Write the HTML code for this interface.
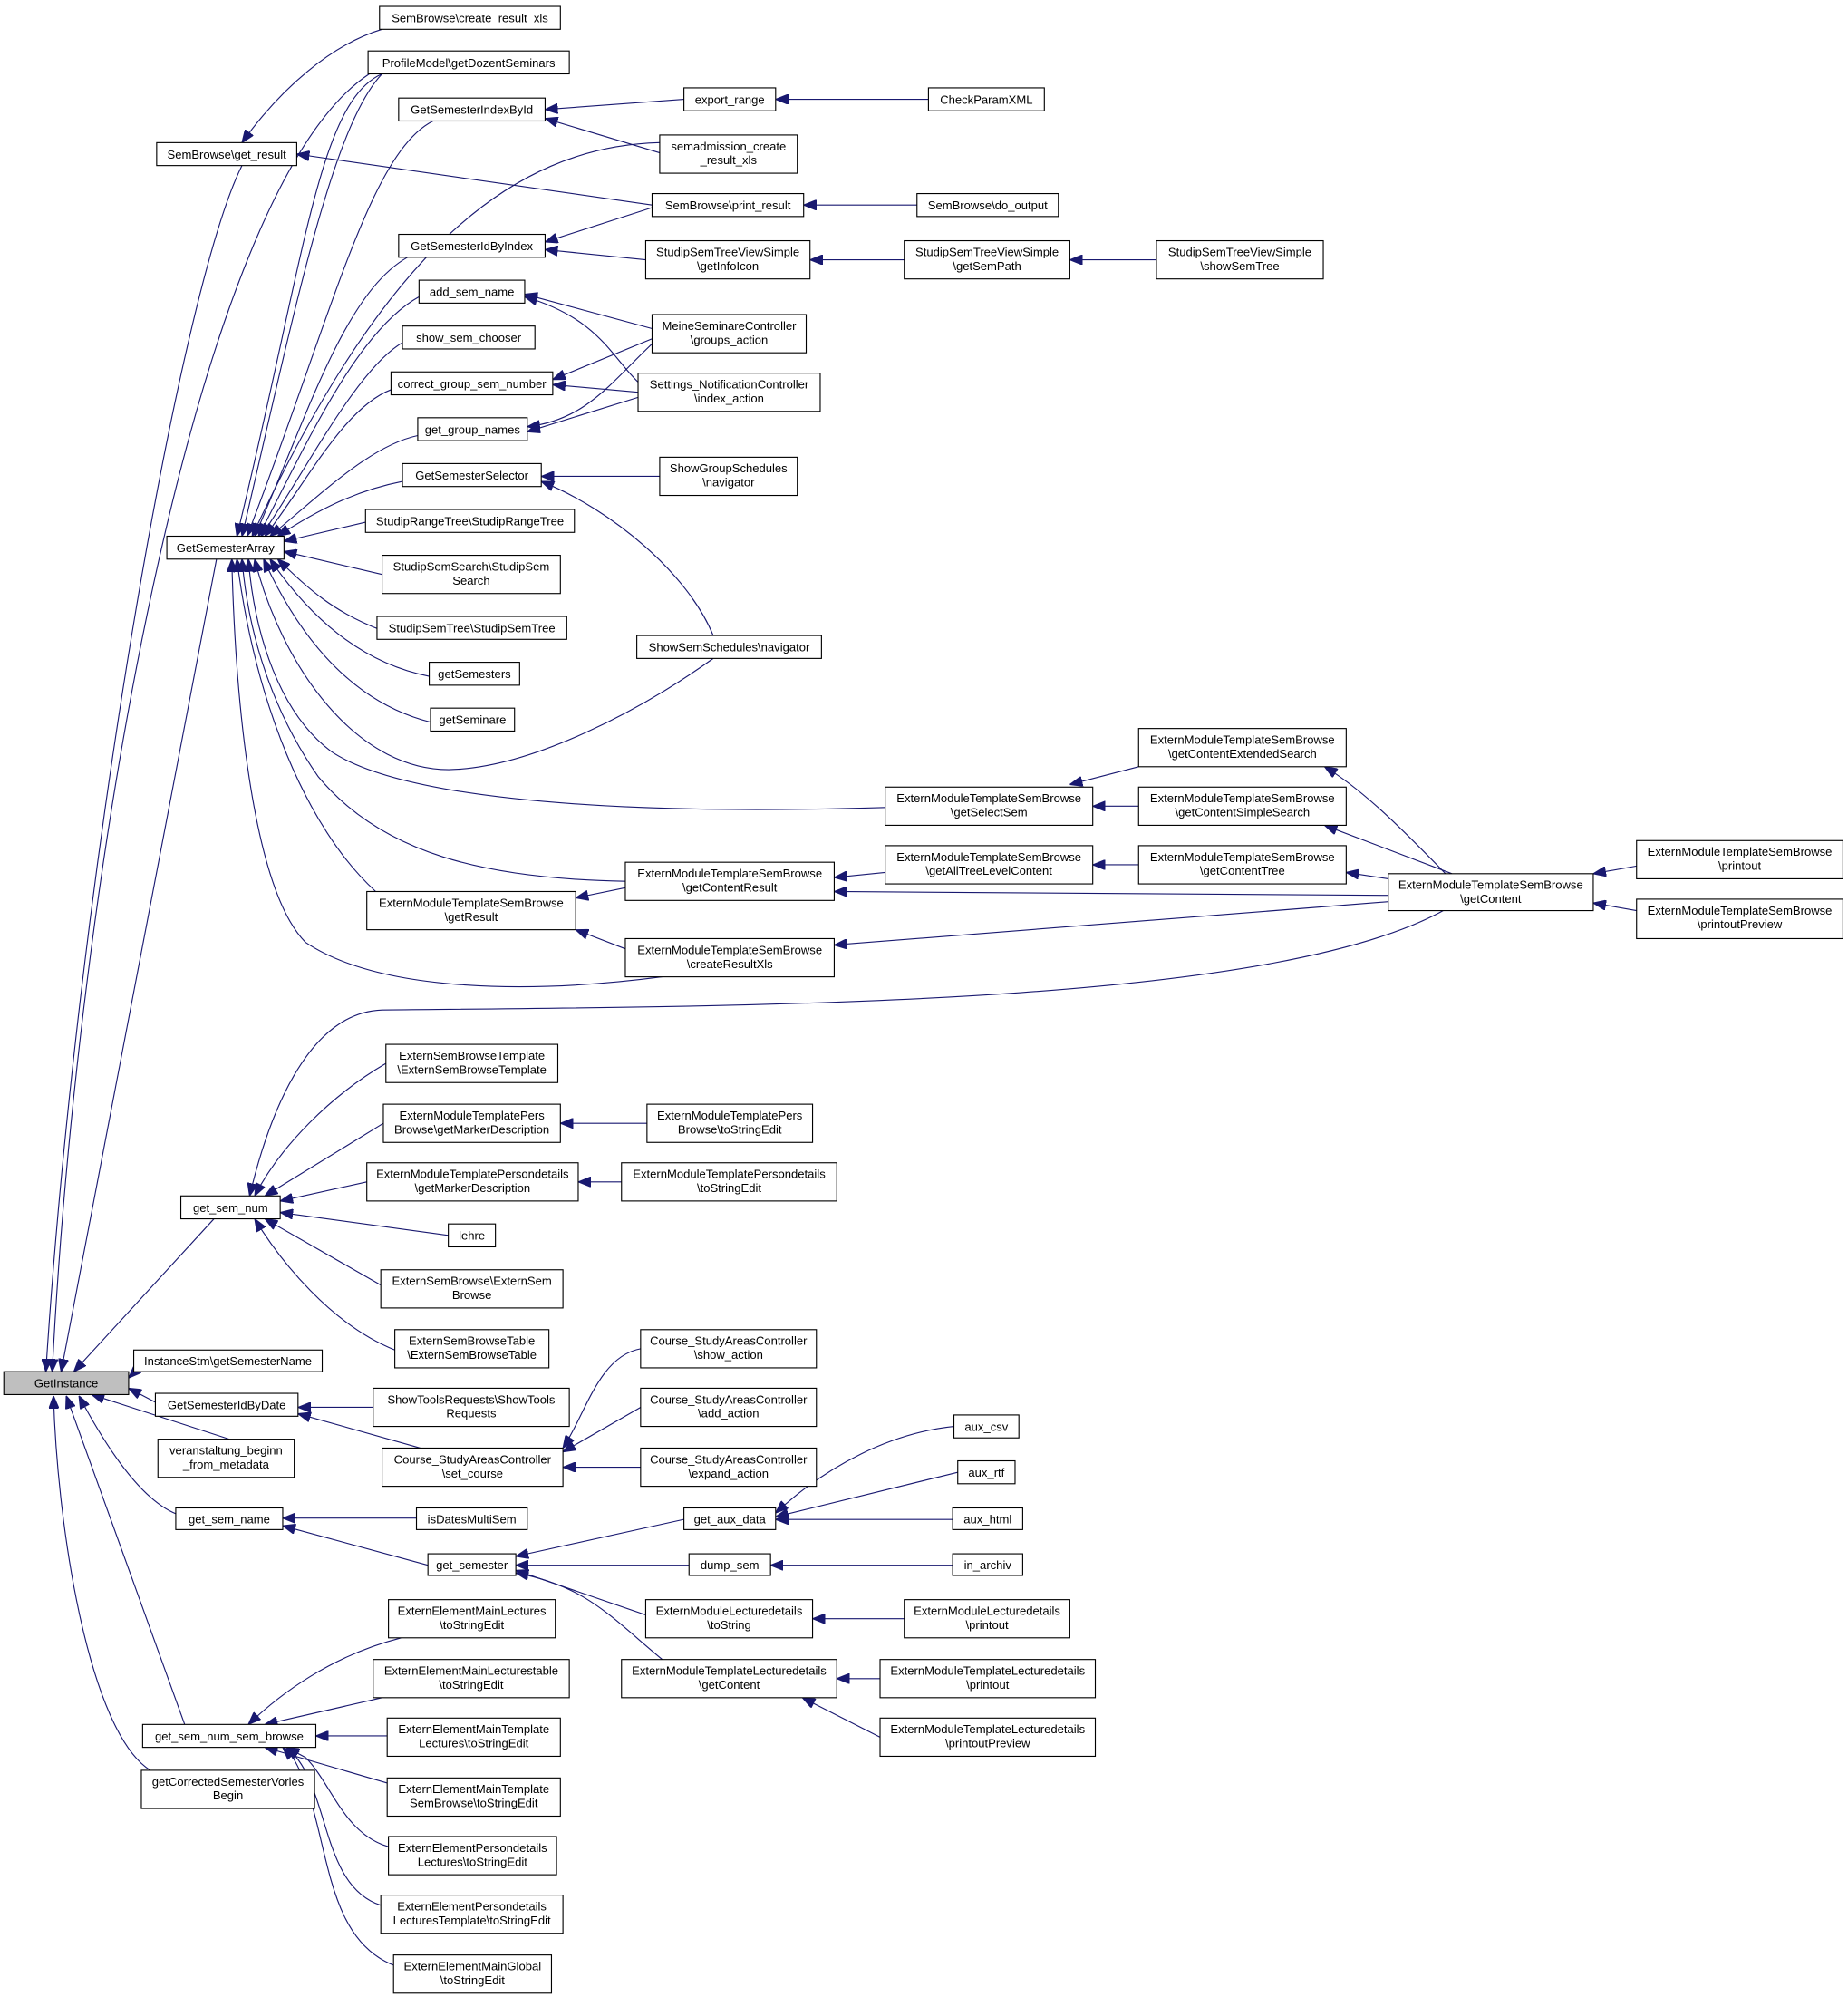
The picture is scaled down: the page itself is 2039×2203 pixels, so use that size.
<!DOCTYPE html>
<html><head><meta charset="utf-8"><style>
html,body{margin:0;padding:0;background:#fff;}
svg{display:block;}
text{font-family:"Liberation Sans",sans-serif;font-size:9.3px;fill:#000;text-anchor:middle;}
rect{fill:#fff;stroke:#000;stroke-width:0.8;}
path{fill:none;stroke:#191970;stroke-width:0.8;marker-end:url(#a);}
</style></head><body>
<svg width="2039" height="2203" viewBox="0 0 1451 1568" preserveAspectRatio="none" xmlns="http://www.w3.org/2000/svg">
<defs><marker id="a" viewBox="0 0 10 8" refX="10" refY="4" markerWidth="10" markerHeight="8" markerUnits="userSpaceOnUse" orient="auto"><path d="M0,0 L10,4 L0,8 Z" style="fill:#191970;stroke:#191970;marker-end:none"/></marker></defs>

<!-- edges to GetInstance -->
<path d="M190,130 C140,230 60,700 36,1077"/>
<path d="M290,58 C150,150 60,700 41,1077"/>
<path d="M170,439 L48,1077"/>
<path d="M168,957 L58,1077"/>
<path d="M105,1078 L101,1082"/>
<path d="M122,1101 L101,1090"/>
<path d="M180,1130 L72,1095"/>
<path d="M142,1190 C110,1180 80,1130 62,1096"/>
<path d="M145,1354 L52,1096"/>
<path d="M118,1390 C70,1360 45,1200 42,1096"/>

<!-- get_result -->
<path d="M300,23 C260,35 220,70 190,112"/>
<path d="M512,161 L233,121"/>

<!-- GetSemesterArray -->
<path d="M300,58 C250,80 240,200 186,421"/>
<path d="M300,58 C260,100 230,250 190,421"/>
<path d="M340,95 C290,120 260,250 194,421"/>
<path d="M518,112 C400,115 300,200 198,421"/>
<path d="M320,202 C270,230 240,330 200,421"/>
<path d="M329,233 C280,260 240,350 203,421"/>
<path d="M316,269 C280,290 240,370 205,421"/>
<path d="M307,306 C270,320 240,380 208,421"/>
<path d="M328,342 C290,350 250,390 212,421"/>
<path d="M316,378 C280,385 250,400 218,421"/>
<path d="M287,410 L223,425"/>
<path d="M300,451 L223,433"/>
<path d="M300,495 C260,480 240,460 218,439"/>
<path d="M337,531 C280,520 240,480 212,439"/>
<path d="M338,567 C270,550 230,490 207,439"/>
<path d="M560,517 C500,560 420,600 360,604 C280,610 220,520 200,439"/>
<path d="M695,634 C500,640 320,630 260,590 C220,560 200,500 195,439"/>
<path d="M491,692 C380,690 300,670 250,610 C215,560 195,500 190,439"/>
<path d="M295,700 C240,650 200,550 186,439"/>
<path d="M520,767 C420,780 300,780 240,740 C200,700 185,560 182,439"/>

<!-- GetSemesterIndexById -->
<path d="M537,78 L428,86"/>
<path d="M518,120 L428,93"/>
<path d="M729,78 L609,78"/>
<path d="M720,161 L631,161"/>
<path d="M512,163 L428,190"/>
<path d="M507,204 L428,196"/>
<path d="M710,204 L636,204"/>
<path d="M908,204 L840,204"/>
<!-- add_sem_name etc -->
<path d="M512,258 L412,231"/>
<path d="M501,300 C480,280 470,250 412,233"/>
<path d="M512,266 L434,298"/>
<path d="M501,308 L434,302"/>
<path d="M512,270 C480,300 460,330 414,335"/>
<path d="M501,312 L414,339"/>
<path d="M518,374 L425,374"/>
<path d="M560,499 C540,450 480,400 425,378"/>
<!-- SemBrowse module -->
<path d="M894,602 L840,616"/>
<path d="M894,633 L858,633"/>
<path d="M1135,686 C1100,650 1070,620 1040,602"/>
<path d="M1140,686 L1040,648"/>
<path d="M1090,690 L1057,685"/>
<path d="M894,679 L858,679"/>
<path d="M695,685 L655,689"/>
<path d="M1090,703 L655,700"/>
<path d="M1090,708 L655,742"/>
<path d="M491,697 L452,705"/>
<path d="M491,745 L452,730"/>
<path d="M1285,680 L1251,686"/>
<path d="M1285,715 L1251,709"/>
<!-- get_sem_num -->
<path d="M1135,714 C1000,790 600,790 300,793 C240,795 210,880 196,939"/>
<path d="M303,835 C260,860 220,900 200,939"/>
<path d="M301,882 L208,939"/>
<path d="M288,928 L220,943"/>
<path d="M352,970 L220,952"/>
<path d="M299,1009 L208,957"/>
<path d="M310,1060 C260,1040 220,990 200,957"/>
<path d="M508,882 L440,882"/>
<path d="M488,928 L454,928"/>
<!-- GetSemesterIdByDate -->
<path d="M293,1105 L234,1105"/>
<path d="M330,1137 L234,1110"/>
<path d="M503,1059 C470,1065 460,1110 442,1137"/>
<path d="M503,1105 L442,1140"/>
<path d="M503,1152 L442,1152"/>
<!-- get_sem_name -->
<path d="M327,1192 L222,1192"/>
<path d="M336,1229 L222,1198"/>
<path d="M537,1193 L405,1222"/>
<path d="M541,1229 L405,1229"/>
<path d="M507,1268 L405,1233"/>
<path d="M520,1303 C480,1270 460,1245 405,1235"/>
<path d="M749,1120 C700,1125 650,1150 609,1188"/>
<path d="M752,1156 L609,1191"/>
<path d="M748,1193 L609,1193"/>
<path d="M748,1229 L605,1229"/>
<path d="M710,1271 L638,1271"/>
<path d="M691,1318 L657,1318"/>
<path d="M691,1364 L630,1333"/>
<!-- get_sem_num_sem_browse -->
<path d="M315,1286 C260,1300 220,1330 195,1354"/>
<path d="M300,1333 L208,1354"/>
<path d="M304,1363 L248,1363"/>
<path d="M304,1400 L208,1372"/>
<path d="M305,1450 C270,1440 260,1400 240,1380 L225,1372"/>
<path d="M299,1496 C250,1480 260,1400 225,1372"/>
<path d="M309,1543 C250,1520 260,1430 230,1380 L222,1372"/>

<!-- nodes -->
<rect x="3" y="1077" width="98" height="18" style="fill:#bfbfbf"/><text x="52" y="1089.5">GetInstance</text>
<rect x="123" y="112" width="110" height="18"/><text x="178" y="124.5">SemBrowse\get_result</text>
<rect x="131" y="421" width="92" height="18"/><text x="177" y="433.5">GetSemesterArray</text>
<rect x="142" y="939" width="78" height="18"/><text x="181" y="951.5">get_sem_num</text>
<rect x="105" y="1060" width="148" height="17"/><text x="179" y="1072">InstanceStm\getSemesterName</text>
<rect x="122" y="1094" width="112" height="18"/><text x="178" y="1106.5">GetSemesterIdByDate</text>
<rect x="124" y="1130" width="107" height="30"/><text x="177.5" y="1142">veranstaltung_beginn</text><text x="177.5" y="1153">_from_metadata</text>
<rect x="138" y="1184" width="84" height="17"/><text x="180" y="1196">get_sem_name</text>
<rect x="112" y="1354" width="136" height="18"/><text x="180" y="1366.5">get_sem_num_sem_browse</text>
<rect x="111" y="1390" width="136" height="30"/><text x="179" y="1402">getCorrectedSemesterVorles</text><text x="179" y="1413">Begin</text>

<rect x="298" y="5" width="142" height="18"/><text x="369" y="17.5">SemBrowse\create_result_xls</text>
<rect x="289" y="40" width="158" height="18"/><text x="368" y="52.5">ProfileModel\getDozentSeminars</text>
<rect x="313" y="77" width="115" height="18"/><text x="370.5" y="89.5">GetSemesterIndexById</text>
<rect x="313" y="184" width="115" height="18"/><text x="370.5" y="196.5">GetSemesterIdByIndex</text>
<rect x="329" y="220" width="83" height="18"/><text x="370.5" y="232.5">add_sem_name</text>
<rect x="316" y="256" width="104" height="18"/><text x="368" y="268.5">show_sem_chooser</text>
<rect x="307" y="292" width="127" height="18"/><text x="370.5" y="304.5">correct_group_sem_number</text>
<rect x="328" y="328" width="86" height="18"/><text x="371" y="340.5">get_group_names</text>
<rect x="316" y="364" width="109" height="18"/><text x="370.5" y="376.5">GetSemesterSelector</text>
<rect x="287" y="400" width="164" height="18"/><text x="369" y="412.5">StudipRangeTree\StudipRangeTree</text>
<rect x="300" y="436" width="140" height="30"/><text x="370" y="448">StudipSemSearch\StudipSem</text><text x="370" y="459">Search</text>
<rect x="296" y="484" width="149" height="18"/><text x="370.5" y="496.5">StudipSemTree\StudipSemTree</text>
<rect x="337" y="520" width="71" height="18"/><text x="372.5" y="532.5">getSemesters</text>
<rect x="338" y="556" width="66" height="18"/><text x="371" y="568.5">getSeminare</text>
<rect x="288" y="700" width="164" height="30"/><text x="370" y="712">ExternModuleTemplateSemBrowse</text><text x="370" y="723">\getResult</text>
<rect x="303" y="820" width="135" height="30"/><text x="370.5" y="832">ExternSemBrowseTemplate</text><text x="370.5" y="843">\ExternSemBrowseTemplate</text>
<rect x="301" y="867" width="139" height="30"/><text x="370.5" y="879">ExternModuleTemplatePers</text><text x="370.5" y="890">Browse\getMarkerDescription</text>
<rect x="288" y="913" width="166" height="30"/><text x="371" y="925">ExternModuleTemplatePersondetails</text><text x="371" y="936">\getMarkerDescription</text>
<rect x="352" y="961" width="37" height="18"/><text x="370.5" y="973.5">lehre</text>
<rect x="299" y="997" width="143" height="30"/><text x="370.5" y="1009">ExternSemBrowse\ExternSem</text><text x="370.5" y="1020">Browse</text>
<rect x="310" y="1044" width="121" height="30"/><text x="370.5" y="1056">ExternSemBrowseTable</text><text x="370.5" y="1067">\ExternSemBrowseTable</text>
<rect x="293" y="1090" width="154" height="30"/><text x="370" y="1102">ShowToolsRequests\ShowTools</text><text x="370" y="1113">Requests</text>
<rect x="300" y="1137" width="142" height="30"/><text x="371" y="1149">Course_StudyAreasController</text><text x="371" y="1160">\set_course</text>
<rect x="327" y="1184" width="87" height="17"/><text x="370.5" y="1196">isDatesMultiSem</text>
<rect x="336" y="1220" width="69" height="17"/><text x="370.5" y="1232">get_semester</text>
<rect x="305" y="1256" width="131" height="30"/><text x="370.5" y="1268">ExternElementMainLectures</text><text x="370.5" y="1279">\toStringEdit</text>
<rect x="293" y="1303" width="154" height="30"/><text x="370" y="1315">ExternElementMainLecturestable</text><text x="370" y="1326">\toStringEdit</text>
<rect x="304" y="1349" width="136" height="30"/><text x="372" y="1361">ExternElementMainTemplate</text><text x="372" y="1372">Lectures\toStringEdit</text>
<rect x="304" y="1396" width="136" height="30"/><text x="372" y="1408">ExternElementMainTemplate</text><text x="372" y="1419">SemBrowse\toStringEdit</text>
<rect x="305" y="1442" width="132" height="30"/><text x="371" y="1454">ExternElementPersondetails</text><text x="371" y="1465">Lectures\toStringEdit</text>
<rect x="299" y="1488" width="143" height="30"/><text x="370.5" y="1500">ExternElementPersondetails</text><text x="370.5" y="1511">LecturesTemplate\toStringEdit</text>
<rect x="309" y="1535" width="124" height="30"/><text x="371" y="1547">ExternElementMainGlobal</text><text x="371" y="1558">\toStringEdit</text>

<rect x="537" y="69" width="72" height="18"/><text x="573" y="81.5">export_range</text>
<rect x="518" y="106" width="108" height="30"/><text x="572" y="118">semadmission_create</text><text x="572" y="129">_result_xls</text>
<rect x="512" y="152" width="119" height="18"/><text x="571.5" y="164.5">SemBrowse\print_result</text>
<rect x="507" y="189" width="129" height="30"/><text x="571.5" y="201">StudipSemTreeViewSimple</text><text x="571.5" y="212">\getInfoIcon</text>
<rect x="512" y="247" width="121" height="30"/><text x="572.5" y="259">MeineSeminareController</text><text x="572.5" y="270">\groups_action</text>
<rect x="501" y="293" width="143" height="30"/><text x="572.5" y="305">Settings_NotificationController</text><text x="572.5" y="316">\index_action</text>
<rect x="518" y="359" width="108" height="30"/><text x="572" y="371">ShowGroupSchedules</text><text x="572" y="382">\navigator</text>
<rect x="500" y="499" width="145" height="18"/><text x="572.5" y="511.5">ShowSemSchedules\navigator</text>
<rect x="695" y="618" width="163" height="30"/><text x="776.5" y="630">ExternModuleTemplateSemBrowse</text><text x="776.5" y="641">\getSelectSem</text>
<rect x="695" y="664" width="163" height="30"/><text x="776.5" y="676">ExternModuleTemplateSemBrowse</text><text x="776.5" y="687">\getAllTreeLevelContent</text>
<rect x="491" y="677" width="164" height="30"/><text x="573" y="689">ExternModuleTemplateSemBrowse</text><text x="573" y="700">\getContentResult</text>
<rect x="491" y="737" width="164" height="30"/><text x="573" y="749">ExternModuleTemplateSemBrowse</text><text x="573" y="760">\createResultXls</text>
<rect x="508" y="867" width="130" height="30"/><text x="573" y="879">ExternModuleTemplatePers</text><text x="573" y="890">Browse\toStringEdit</text>
<rect x="488" y="913" width="169" height="30"/><text x="572.5" y="925">ExternModuleTemplatePersondetails</text><text x="572.5" y="936">\toStringEdit</text>
<rect x="503" y="1044" width="138" height="30"/><text x="572" y="1056">Course_StudyAreasController</text><text x="572" y="1067">\show_action</text>
<rect x="503" y="1090" width="138" height="30"/><text x="572" y="1102">Course_StudyAreasController</text><text x="572" y="1113">\add_action</text>
<rect x="503" y="1137" width="138" height="30"/><text x="572" y="1149">Course_StudyAreasController</text><text x="572" y="1160">\expand_action</text>
<rect x="537" y="1184" width="72" height="17"/><text x="573" y="1196">get_aux_data</text>
<rect x="541" y="1220" width="64" height="17"/><text x="573" y="1232">dump_sem</text>
<rect x="507" y="1256" width="131" height="30"/><text x="572.5" y="1268">ExternModuleLecturedetails</text><text x="572.5" y="1279">\toString</text>
<rect x="488" y="1303" width="169" height="30"/><text x="572.5" y="1315">ExternModuleTemplateLecturedetails</text><text x="572.5" y="1326">\getContent</text>

<rect x="729" y="69" width="91" height="18"/><text x="774.5" y="81.5">CheckParamXML</text>
<rect x="720" y="152" width="111" height="18"/><text x="775.5" y="164.5">SemBrowse\do_output</text>
<rect x="710" y="189" width="130" height="30"/><text x="775" y="201">StudipSemTreeViewSimple</text><text x="775" y="212">\getSemPath</text>
<rect x="908" y="189" width="131" height="30"/><text x="973.5" y="201">StudipSemTreeViewSimple</text><text x="973.5" y="212">\showSemTree</text>
<rect x="894" y="572" width="163" height="30"/><text x="975.5" y="584">ExternModuleTemplateSemBrowse</text><text x="975.5" y="595">\getContentExtendedSearch</text>
<rect x="894" y="618" width="163" height="30"/><text x="975.5" y="630">ExternModuleTemplateSemBrowse</text><text x="975.5" y="641">\getContentSimpleSearch</text>
<rect x="894" y="664" width="163" height="30"/><text x="975.5" y="676">ExternModuleTemplateSemBrowse</text><text x="975.5" y="687">\getContentTree</text>
<rect x="1090" y="686" width="161" height="29"/><text x="1170.5" y="698">ExternModuleTemplateSemBrowse</text><text x="1170.5" y="709">\getContent</text>
<rect x="1285" y="660" width="162" height="30"/><text x="1366" y="672">ExternModuleTemplateSemBrowse</text><text x="1366" y="683">\printout</text>
<rect x="1285" y="706" width="162" height="31"/><text x="1366" y="718">ExternModuleTemplateSemBrowse</text><text x="1366" y="729">\printoutPreview</text>
<rect x="749" y="1111" width="51" height="18"/><text x="774.5" y="1123.5">aux_csv</text>
<rect x="752" y="1147" width="45" height="18"/><text x="774.5" y="1159.5">aux_rtf</text>
<rect x="748" y="1184" width="55" height="17"/><text x="775.5" y="1196">aux_html</text>
<rect x="748" y="1220" width="55" height="17"/><text x="775.5" y="1232">in_archiv</text>
<rect x="710" y="1256" width="130" height="30"/><text x="775" y="1268">ExternModuleLecturedetails</text><text x="775" y="1279">\printout</text>
<rect x="691" y="1303" width="169" height="30"/><text x="775.5" y="1315">ExternModuleTemplateLecturedetails</text><text x="775.5" y="1326">\printout</text>
<rect x="691" y="1349" width="169" height="30"/><text x="775.5" y="1361">ExternModuleTemplateLecturedetails</text><text x="775.5" y="1372">\printoutPreview</text>
</svg>
</body></html>
